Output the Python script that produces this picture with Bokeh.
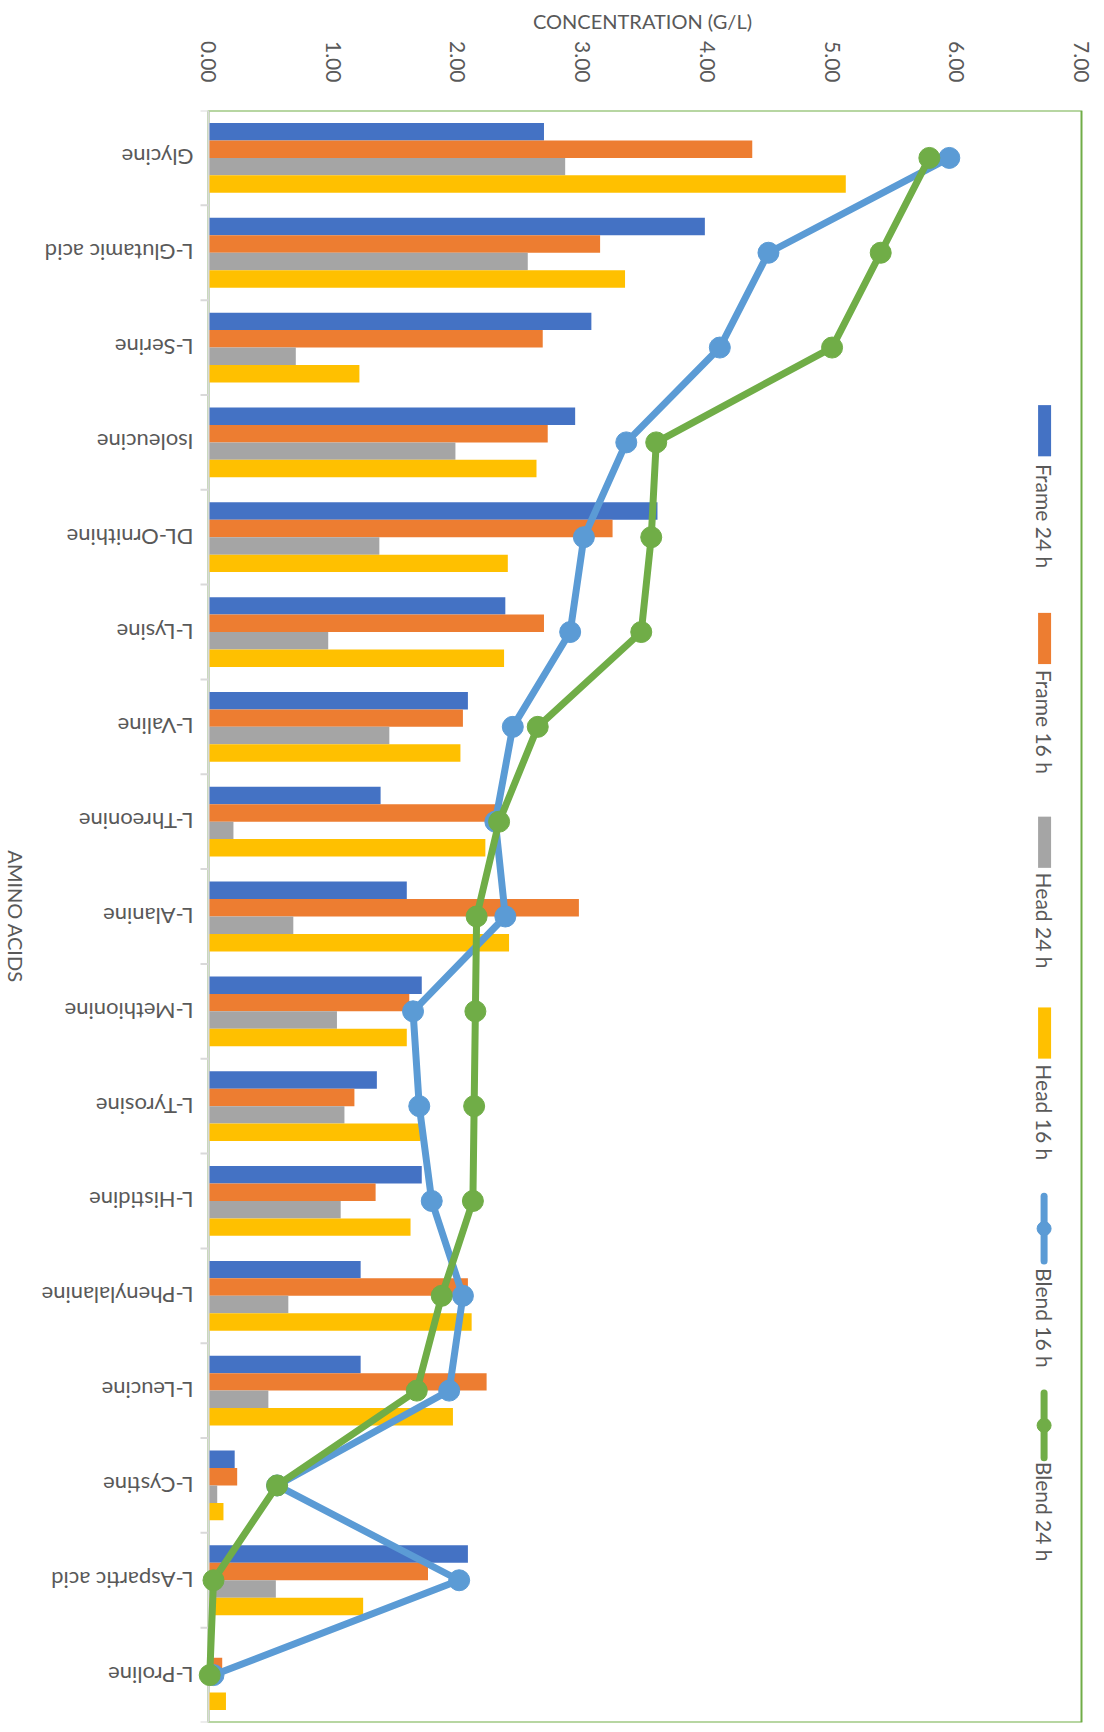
import math

from bokeh.core.properties import value
from bokeh.embed import file_html
from bokeh.models import ColumnDataSource, FixedTicker, NumeralTickFormatter, Range1d
from bokeh.plotting import figure
from bokeh.resources import INLINE
from bokeh.transform import dodge

# Amino acid concentrations (g/L) per sample
amino_acids = [
    "Glycine", "L-Glutamic acid", "L-Serine", "Isoleucine", "DL-Ornithine",
    "L-Lysine", "L-Valine", "L-Threonine", "L-Alanine", "L-Methionine",
    "L-Tyrosine", "L-Histidine", "L-Phenylalanine", "L-Leucine", "L-Cystine",
    "L-Aspartic acid", "L-Proline",
]
frame_24h = [2.69, 3.98, 3.07, 2.94, 3.60, 2.38, 2.08, 1.38, 1.59, 1.71, 1.35, 1.71, 1.22, 1.22, 0.21, 2.08, 0.00]
frame_16h = [4.36, 3.14, 2.68, 2.72, 3.24, 2.69, 2.04, 2.35, 2.97, 1.61, 1.17, 1.34, 2.08, 2.23, 0.23, 1.76, 0.11]
head_24h = [2.86, 2.56, 0.70, 1.98, 1.37, 0.96, 1.45, 0.20, 0.68, 1.03, 1.09, 1.06, 0.64, 0.48, 0.07, 0.54, 0.00]
head_16h = [5.11, 3.34, 1.21, 2.63, 2.40, 2.37, 2.02, 2.22, 2.41, 1.59, 1.70, 1.62, 2.11, 1.96, 0.12, 1.24, 0.14]
blend_16h = [5.94, 4.49, 4.10, 3.35, 3.01, 2.90, 2.44, 2.30, 2.38, 1.64, 1.69, 1.79, 2.04, 1.93, 0.55, 2.01, 0.04]
blend_24h = [5.78, 5.39, 5.00, 3.59, 3.55, 3.47, 2.64, 2.33, 2.15, 2.14, 2.13, 2.12, 1.87, 1.67, 0.55, 0.04, 0.01]

value_ticks = [0, 1, 2, 3, 4, 5, 6, 7]
bar_series = ["Frame 24 h", "Frame 16 h", "Head 24 h", "Head 16 h"]
line_series = ["Blend 16 h", "Blend 24 h"]
bar_colors = ["#4472C4", "#ED7D31", "#A5A5A5", "#FFC000"]
line_colors = ["#5B9BD5", "#70AD47"]

TEXT = "#595959"
FONT = "Lato"
BORDER = "#70AD47"
AXIS_GREY = "#D9D9D9"

W, H = 1104, 1732
BOX_LEFT, BOX_RIGHT = 208, 1081      # pixel edges of the plotting box
BOX_TOP, BOX_BOTTOM = 108, 1722
VMAX = value_ticks[-1]

n = len(amino_acids)
centers = [i + 0.5 for i in range(n)]
boundaries = list(range(n + 1))

# one data unit in pixels; the frame spans the full width so that the
# category names can sit to the left of the box
ppu = (BOX_RIGHT - BOX_LEFT) / VMAX
x_lo = -BOX_LEFT / ppu
x_hi = VMAX + (W - BOX_RIGHT) / ppu
px = 1.0 / ppu

source = ColumnDataSource(dict(
    pos=centers, name=amino_acids,
    frame_24h=frame_24h, frame_16h=frame_16h,
    head_24h=head_24h, head_16h=head_16h,
    blend_16h=blend_16h, blend_24h=blend_24h,
))

p = figure(
    width=W, height=H, output_backend="svg", toolbar_location=None,
    x_range=Range1d(x_lo, x_hi), y_range=Range1d(n, 0),
    x_axis_location="above", y_axis_location=None,
    min_border_left=0, min_border_right=0, min_border_top=BOX_TOP,
    min_border_bottom=H - BOX_BOTTOM,
)
p.xgrid.visible = False
p.ygrid.visible = False
p.outline_line_color = None
p.background_fill_color = "white"
p.border_fill_color = "white"

# axis title above the value ticks, centred on the box
p.title.text = "CONCENTRATION (G/L)"
p.title.align = "left"
p.title.offset = (BOX_LEFT + BOX_RIGHT) / 2 - 112
p.title.text_font = FONT
p.title.text_font_size = "20px"
p.title.text_font_style = "normal"
p.title.text_color = TEXT
p.title.standoff = 12

# plotting box
p.quad(left=[0], right=[VMAX], top=[0], bottom=[n], fill_color=None,
       line_color=BORDER, line_width=2)

# clustered horizontal bars, four per amino acid
bar_h = 0.184
offsets = [-1.5 * bar_h, -0.5 * bar_h, 0.5 * bar_h, 1.5 * bar_h]
for key, color, off in zip(["frame_24h", "frame_16h", "head_24h", "head_16h"], bar_colors, offsets):
    p.hbar(y=dodge("pos", off, range=p.y_range), right=key, left=0, height=bar_h,
           source=source, fill_color=color, line_color=None)

# category axis line and boundary ticks
p.segment(x0=[0], x1=[0], y0=[0], y1=[n], line_color=AXIS_GREY, line_width=2)
p.segment(x0=[-8 * px] * len(boundaries), x1=[0] * len(boundaries),
          y0=boundaries, y1=boundaries, line_color=AXIS_GREY, line_width=2)

# blend lines with markers
for key, color in zip(["blend_16h", "blend_24h"], line_colors):
    p.line(x=key, y="pos", source=source, line_color=color, line_width=7,
           line_join="round", line_cap="round")
    p.scatter(x=key, y="pos", source=source, size=21, fill_color=color, line_color=color)

# value axis on top, labels rotated
xa = p.xaxis[0]
xa.ticker = FixedTicker(ticks=value_ticks)
xa.formatter = NumeralTickFormatter(format="0.00")
xa.major_label_orientation = -math.pi / 2
xa.major_label_standoff = 22
xa.major_label_text_font = FONT
xa.major_label_text_font_size = "21px"
xa.major_label_text_color = TEXT
xa.major_tick_line_color = None
xa.minor_tick_line_color = None
xa.axis_line_color = None

# category names, upside down, ending next to the axis
p.text(x=-15 * px, y="pos", text="name", source=source, angle=math.pi,
       text_align="left", text_baseline="middle", text_font=value(FONT),
       text_font_size="22px", text_color=TEXT)

# category axis title
p.text(x=[(15 - BOX_LEFT) * px], y=[n / 2], text=["AMINO ACIDS"], angle=-math.pi / 2,
       text_align="center", text_baseline="middle", text_font=value(FONT),
       text_font_size="20px", text_color=TEXT)

# legend, rotated to read downwards along the right edge
leg_x = 6.70
swatch_top = [3.107, 5.298, 7.447, 9.459]
swatch_len = 0.54
p.quad(left=[leg_x - 6 * px] * 4, right=[leg_x + 7 * px] * 4, top=swatch_top,
       bottom=[t + swatch_len for t in swatch_top], fill_color=bar_colors, line_color=None)
line_top = [11.449, 13.524]
line_len = 0.685
for t, color in zip(line_top, line_colors):
    p.line(x=[leg_x, leg_x], y=[t, t + line_len], line_color=color, line_width=7, line_cap="round")
    p.scatter(x=[leg_x], y=[t + line_len / 2], size=14, fill_color=color, line_color=color)
text_top = [3.729, 5.898, 8.037, 10.059, 12.208, 14.251]
p.text(x=[leg_x] * 6, y=text_top, text=bar_series + line_series, angle=-math.pi / 2,
       text_align="left", text_baseline="middle", text_font=value(FONT),
       text_font_size="21px", text_color=TEXT)

open("out.html", "w").write(file_html(p, INLINE))
